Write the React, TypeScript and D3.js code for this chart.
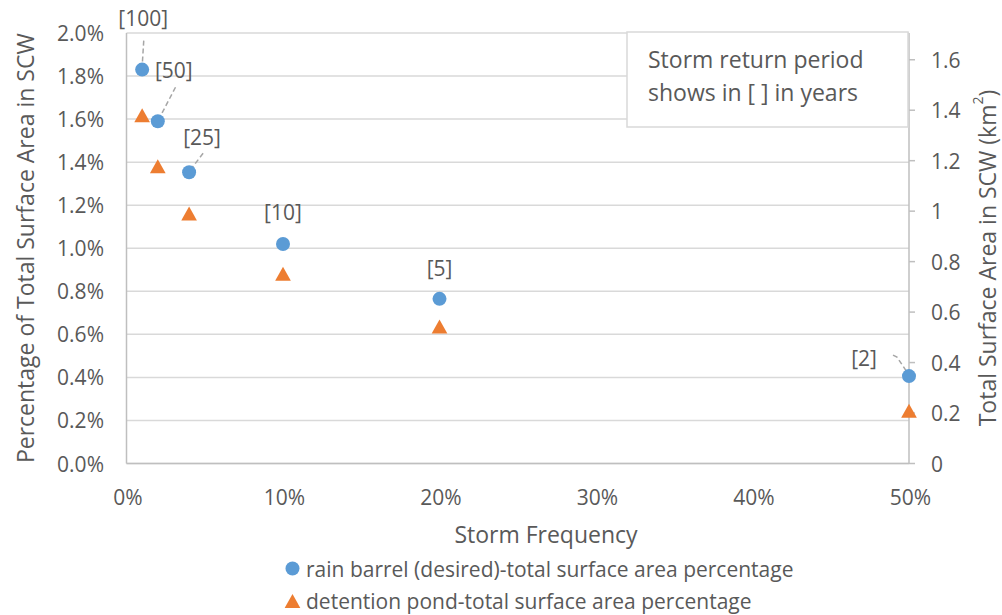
import React from "react";
import * as d3 from "d3";

// Storm frequency (annual exceedance probability) and the matching return period labels
const stormFrequency = [0.01, 0.02, 0.04, 0.1, 0.2, 0.5];
const returnPeriodLabels = ["[100]", "[50]", "[25]", "[10]", "[5]", "[2]"];

// Share of total watershed surface area needed by each practice
const rainBarrelPct = [0.0183, 0.0159, 0.01353, 0.0102, 0.00765, 0.00406];
const detentionPondPct = [0.01618, 0.01381, 0.01162, 0.00882, 0.00636, 0.00245];

// Total surface area of the SCW watershed (km²), used for the secondary axis
const totalAreaKm2 = 85.3;

// Axis ticks
const xTicks = [0, 0.1, 0.2, 0.3, 0.4, 0.5];
const leftTicks = [0, 0.002, 0.004, 0.006, 0.008, 0.01, 0.012, 0.014, 0.016, 0.018, 0.02];
const rightTicks = [0, 0.2, 0.4, 0.6, 0.8, 1, 1.2, 1.4, 1.6];

const seriesNames = [
  "rain barrel (desired)-total surface area percentage",
  "detention pond-total surface area percentage",
];

const W = 1002;
const H = 615;
const plot = { left: 126.5, right: 909, top: 33, bottom: 463.5 };

const BLUE = "#5B9BD5";
const ORANGE = "#ED7D31";
const TEXT = "#595959";
const GRID = "#D9D9D9";
const AXIS = "#BFBFBF";
const FONT = "'Open Sans', 'Noto Sans', sans-serif";

// Label placement relative to each rain-barrel point
const labelOffsets: [number, number][] = [
  [1, -52],
  [16, -51],
  [13, -35],
  [0, -32],
  [0, -31],
  [-45, -18],
];
// Dashed leader lines (relative to the point), null where none is drawn
const leaderPaths: ([number, number][] | null)[] = [
  [[1.6, -29], [0, -3]],
  [[17.7, -34], [1, -2]],
  [[14, -19], [1, -2]],
  null,
  null,
  [[-16, -21], [-12, -19], [0, -1]],
];

// Triangle marker centred on its bounding box
const triangleSymbol: d3.SymbolType = {
  draw(context, size) {
    const h = Math.sqrt(size);
    const w = h * 1.12;
    context.moveTo(0, -h / 2);
    context.lineTo(w / 2, h / 2);
    context.lineTo(-w / 2, h / 2);
    context.closePath();
  },
};

export default function App() {
  const x = d3.scaleLinear().domain([0, 0.5]).range([plot.left, plot.right]);
  const yL = d3.scaleLinear().domain([0, 0.02]).range([plot.bottom, plot.top]);
  const yR = d3
    .scaleLinear()
    .domain([0, 0.02 * totalAreaKm2])
    .range([plot.bottom, plot.top]);

  const fmtX = d3.format(".0%");
  const fmtL = d3.format(".1%");
  const fmtR = d3.format("~g");

  const circlePath = d3.symbol(d3.symbolCircle, Math.PI * 49)()!;
  const trianglePath = d3.symbol(triangleSymbol, 196)()!;
  const lineGen = d3.line();

  const tickSize = 21;
  const titleSize = 23;

  return (
    <svg
      width={W}
      height={H}
      style={{ position: "absolute", left: 0, top: 0, background: "#fff" }}
      fontFamily={FONT}
    >
      <rect x={0} y={0} width={W} height={H} fill="#fff" />

      {/* horizontal gridlines */}
      {leftTicks.map((t) => (
        <line
          key={"g" + t}
          x1={plot.left}
          x2={plot.right}
          y1={yL(t)}
          y2={yL(t)}
          stroke={GRID}
          strokeWidth={1.5}
        />
      ))}

      {/* axis lines */}
      <line x1={plot.left} x2={plot.left} y1={plot.top} y2={plot.bottom} stroke={AXIS} strokeWidth={1.5} />
      <line x1={plot.right} x2={plot.right} y1={plot.top} y2={plot.bottom} stroke={AXIS} strokeWidth={1.5} />
      <line x1={plot.left} x2={plot.right} y1={plot.bottom} y2={plot.bottom} stroke={AXIS} strokeWidth={1.5} />
      {rightTicks.map((t) => (
        <line
          key={"rt" + t}
          x1={plot.right}
          x2={plot.right + 6}
          y1={yR(t)}
          y2={yR(t)}
          stroke={AXIS}
          strokeWidth={1.5}
        />
      ))}

      {/* left tick labels */}
      {leftTicks.map((t) => (
        <text
          key={"lt" + t}
          x={104}
          y={yL(t)}
          textAnchor="end"
          dominantBaseline="central"
          fontSize={tickSize}
          fill={TEXT}
        >
          {fmtL(t)}
        </text>
      ))}

      {/* right tick labels */}
      {rightTicks.map((t) => (
        <text
          key={"rl" + t}
          x={931}
          y={yR(t)}
          textAnchor="start"
          dominantBaseline="central"
          fontSize={tickSize}
          fill={TEXT}
        >
          {fmtR(t)}
        </text>
      ))}

      {/* bottom tick labels */}
      {xTicks.map((t) => (
        <text
          key={"xt" + t}
          x={x(t) + 1.5}
          y={497}
          textAnchor="middle"
          dominantBaseline="central"
          fontSize={tickSize}
          fill={TEXT}
        >
          {fmtX(t)}
        </text>
      ))}

      {/* axis titles */}
      <text
        x={546}
        y={534}
        textAnchor="middle"
        dominantBaseline="central"
        fontSize={titleSize}
        fill={TEXT}
      >
        Storm Frequency
      </text>
      <text
        transform={`translate(25,${(plot.top + plot.bottom) / 2}) rotate(-90)`}
        textAnchor="middle"
        dominantBaseline="central"
        fontSize={titleSize}
        fill={TEXT}
      >
        Percentage of Total Surface Area in SCW
      </text>
      <text
        transform={`translate(987,258) rotate(-90)`}
        textAnchor="middle"
        dominantBaseline="central"
        fontSize={titleSize}
        fill={TEXT}
      >
        Total Surface Area in SCW (km
        <tspan baselineShift="super" fontSize={14}>
          2
        </tspan>
        )
      </text>

      {/* note box */}
      <rect x={627} y={32} width={281} height={95} fill="#fff" stroke={GRID} strokeWidth={1.5} />
      <text x={648} y={58.5} dominantBaseline="central" fontSize={23} fill={TEXT}>
        Storm return period
      </text>
      <text x={648} y={91.5} dominantBaseline="central" fontSize={23} fill={TEXT}>
        shows in [ ] in years
      </text>

      {/* leader lines for the return-period labels */}
      {stormFrequency.map((f, i) => {
        const pts = leaderPaths[i];
        if (!pts) return null;
        const px = x(f);
        const py = yL(rainBarrelPct[i]);
        return (
          <path
            key={"ld" + i}
            d={lineGen(pts.map(([dx, dy]) => [px + dx, py + dy]))!}
            fill="none"
            stroke="#A6A6A6"
            strokeWidth={1.5}
            strokeDasharray="5,3"
          />
        );
      })}

      {/* detention pond markers */}
      {stormFrequency.map((f, i) => (
        <path
          key={"dp" + i}
          d={trianglePath}
          transform={`translate(${x(f)},${yL(detentionPondPct[i])})`}
          fill={ORANGE}
        />
      ))}

      {/* rain barrel markers */}
      {stormFrequency.map((f, i) => (
        <path
          key={"rb" + i}
          d={circlePath}
          transform={`translate(${x(f)},${yL(rainBarrelPct[i])})`}
          fill={BLUE}
        />
      ))}

      {/* return period labels */}
      {stormFrequency.map((f, i) => (
        <text
          key={"rp" + i}
          x={x(f) + labelOffsets[i][0]}
          y={yL(rainBarrelPct[i]) + labelOffsets[i][1]}
          textAnchor="middle"
          dominantBaseline="central"
          fontSize={21}
          fill={TEXT}
        >
          {returnPeriodLabels[i]}
        </text>
      ))}

      {/* legend */}
      <path d={circlePath} transform="translate(292.5,568.5)" fill={BLUE} />
      <text x={306} y={568.5} dominantBaseline="central" fontSize={21} fill={TEXT}>
        {seriesNames[0]}
      </text>
      <path d={trianglePath} transform="translate(292.5,601)" fill={ORANGE} />
      <text x={306} y={601} dominantBaseline="central" fontSize={21} fill={TEXT}>
        {seriesNames[1]}
      </text>
    </svg>
  );
}
